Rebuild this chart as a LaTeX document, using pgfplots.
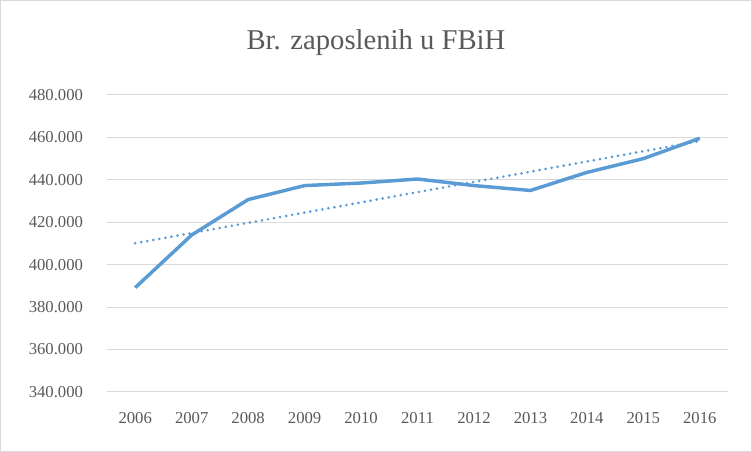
\documentclass[border=0pt]{standalone}
\usepackage{pgfplots}
\pgfplotsset{compat=1.18}
\usepackage{fontspec}
\setmainfont{Liberation Serif}
\definecolor{ln}{HTML}{5B9BD5}
\definecolor{txt}{HTML}{595959}
\definecolor{grd}{HTML}{D9D9D9}
\begin{document}
\begin{tikzpicture}
\path[use as bounding box] (0,0) rectangle (564pt,339pt);
\draw[grd, line width=0.75pt] (0.4pt,0.4pt) rectangle (563.6pt,338.6pt);
\node[txt, font=\fontsize{21.5}{24}\selectfont] at (282pt,307pt) {Br. zaposlenih u FBiH};
\begin{axis}[
  at={(80.25pt,45pt)}, anchor=south west,
  scale only axis, width=465.75pt, height=222.75pt,
  xmin=-0.5, xmax=10.5, ymin=340, ymax=480,
  axis line style={draw=none},
  major tick style={draw=none},
  xtick={0,...,10},
  xticklabels={2006,2007,2008,2009,2010,2011,2012,2013,2014,2015,2016},
  ytick={340,360,...,480},
  yticklabels={340.000,360.000,380.000,400.000,420.000,440.000,460.000,480.000},
  ymajorgrids, grid style={grd, line width=0.75pt},
  tick label style={txt, font=\fontsize{12.5}{15}\selectfont},
  yticklabel style={xshift=-14.5pt},
  xticklabel style={yshift=-12pt},
  clip=false,
]
\addplot[ln, line width=2.6pt, line join=round] coordinates {
(0,389.2) (1,414) (2,430.7) (3,437.3) (4,438.5) (5,440.4) (6,437.3) (7,435) (8,443.5) (9,450) (10,459.6)};
\addplot[ln, line width=2.2pt, line cap=round, dash pattern=on 0pt off 4.6pt] coordinates {
(0,410.1) (10,458.3)};
\end{axis}
\end{tikzpicture}
\end{document}
